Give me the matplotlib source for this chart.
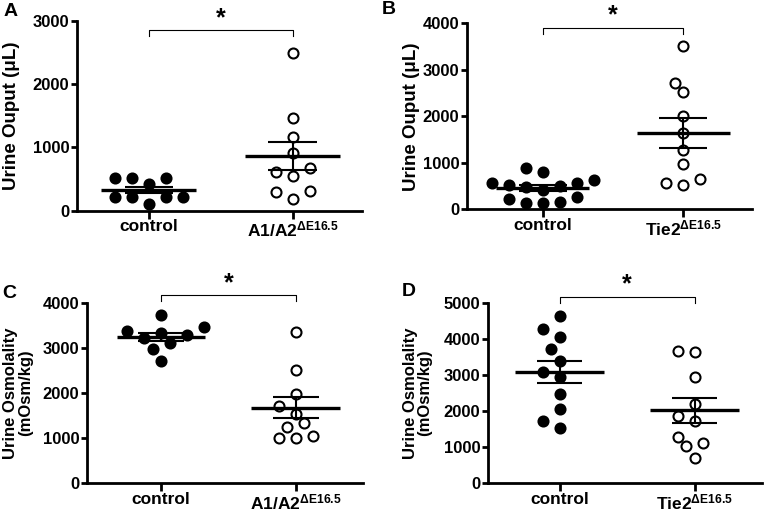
import matplotlib
matplotlib.use("Agg")
import matplotlib.pyplot as plt
import matplotlib.transforms as mtransforms
import numpy as np

plt.rcParams['font.family'] = ['Liberation Sans', 'DejaVu Sans']
plt.rcParams['font.weight'] = 'bold'
plt.rcParams['mathtext.fontset'] = 'custom'
plt.rcParams['mathtext.bf'] = 'Liberation Sans:bold'
plt.rcParams['mathtext.rm'] = 'Liberation Sans:bold'
plt.rcParams['mathtext.default'] = 'bf'

# --- data ---
a_control = [105, 221, 221, 221, 221, 416, 510, 510, 510]
a_mutant = [189, 289, 316, 547, 610, 668, 916, 1158, 1458, 2484]
b_control = [129, 129, 163, 215, 271, 415, 486, 501, 523, 559, 559, 630, 809, 882]
b_mutant = [523, 559, 652, 968, 1276, 1634, 2007, 2530, 2724, 3513]
c_control = [2708, 2967, 3100, 3210, 3284, 3336, 3373, 3454, 3727]
c_mutant = [1011, 1011, 1048, 1255, 1343, 1535, 1720, 1970, 2509, 3358]
d_control = [1541, 1734, 2057, 2463, 2952, 3090, 3386, 3718, 4059, 4262, 4631]
d_mutant = [710, 1042, 1107, 1292, 1734, 1863, 2186, 2952, 3644, 3672]

labels_a1a2 = ['control', r'A1/A2$^{ΔE16.5}$']
labels_tie2 = ['control', r'Tie2$^{ΔE16.5}$']
ylabel_out = 'Urine Ouput (μL)'
ylabel_osm = 'Urine Osmolality\n(mOsm/kg)'

W, H = 765, 511
fig = plt.figure(figsize=(W / 100, H / 100), dpi=100)


def add_axes_px(left, top, right, bottom):
    return fig.add_axes([left / W, 1 - bottom / H, (right - left) / W, (bottom - top) / H])


def swarm_x(ax, x0, values, step_px=8.5, gap_px=12):
    # simple beeswarm: each point goes to the first free slot 0, -1, +1, -2, ... (half-symbol steps)
    x_per_px = 1.0 / (ax.transData.transform((1, 0))[0] - ax.transData.transform((0, 0))[0])
    placed = []
    xs = []
    slots = [0] + [s for k in range(1, 9) for s in (-k, k)]
    for v in values:
        ypx = ax.transData.transform((x0, v))[1]
        for k in slots:
            if all(np.hypot(k * step_px - px, ypx - py) >= gap_px for px, py in placed):
                break
        placed.append((k * step_px, ypx))
        xs.append(x0 + k * step_px * x_per_px)
    return xs


def panel(rect, xlim, ymax, ystep, control, mutant, xlabels, ylabel, ylab_fs, ylab_x,
          letter, letter_xy, bracket_y, star_y):
    ax = add_axes_px(*rect)
    ax.set_xlim(*xlim)
    ax.set_ylim(0, ymax)
    for x0, vals, face in [(0, control, 'black'), (1, mutant, 'white')]:
        xs = swarm_x(ax, x0, vals)
        ax.plot(xs, vals, 'o', ms=7.2, mew=1.5, mfc=face, mec='black', ls='none',
                zorder=2, clip_on=False)
        m = np.mean(vals)
        sem = np.std(vals, ddof=1) / np.sqrt(len(vals))
        ax.hlines(m, x0 - 0.33, x0 + 0.33, color='black', lw=2.4, zorder=3)
        ax.hlines([m - sem, m + sem], x0 - 0.17, x0 + 0.17, color='black', lw=1.5, zorder=3)
        ax.vlines(x0, m - sem, m + sem, color='black', lw=1.5, zorder=3)

    # significance bracket
    tr = mtransforms.blended_transform_factory(ax.transData, ax.transAxes)
    ax.plot([0, 0, 1, 1], [bracket_y - 0.032, bracket_y, bracket_y, bracket_y - 0.032],
            color='black', lw=0.8, transform=tr, clip_on=False)
    ax.text(0.5, star_y, '*', transform=tr, ha='center', va='center', fontsize=18,
            fontweight='bold')

    for s in ['top', 'right']:
        ax.spines[s].set_visible(False)
    for s in ['left', 'bottom']:
        ax.spines[s].set_linewidth(2.0)
    ax.set_yticks(np.arange(0, ymax + 1, ystep))
    ax.set_xticks([0, 1])
    ax.set_xticklabels(xlabels, fontsize=12.5, fontweight='bold')
    ax.tick_params(axis='y', length=4.5, width=2.0, pad=1, labelsize=12)
    ax.tick_params(axis='x', length=5.5, width=2.0, pad=0.8)
    ax.set_ylabel(ylabel, fontsize=ylab_fs, fontweight='bold', linespacing=0.95)
    ax.yaxis.set_label_coords(ylab_x, 0.5)
    fig.text(letter_xy[0] / W, 1 - letter_xy[1] / H, letter, fontsize=14,
             fontweight='bold', ha='left', va='top')
    return ax


panel((77, 20.7, 362, 210.7), (-0.5, 1.48), 3000, 1000, a_control, a_mutant,
      labels_a1a2, ylabel_out, 13.5, -0.2, 'A', (4, 3), 0.95, 1.015)
panel((467, 23.3, 752, 209.3), (-0.54, 1.49), 4000, 1000, b_control, b_mutant,
      labels_tie2, ylabel_out, 13.5, -0.165, 'B', (382, 1), 0.976, 1.045)
panel((87, 302.7, 363, 483.3), (-0.55, 1.5), 4000, 1000, c_control, c_mutant,
      labels_a1a2, ylabel_osm, 12, -0.197, 'C', (2, 285), 1.043, 1.11)
panel((488, 302.7, 762, 483.3), (-0.53, 1.5), 5000, 1000, d_control, d_mutant,
      labels_tie2, ylabel_osm, 12, -0.203, 'D', (402, 283), 1.033, 1.10)

fig.savefig('out.png', dpi=100)
